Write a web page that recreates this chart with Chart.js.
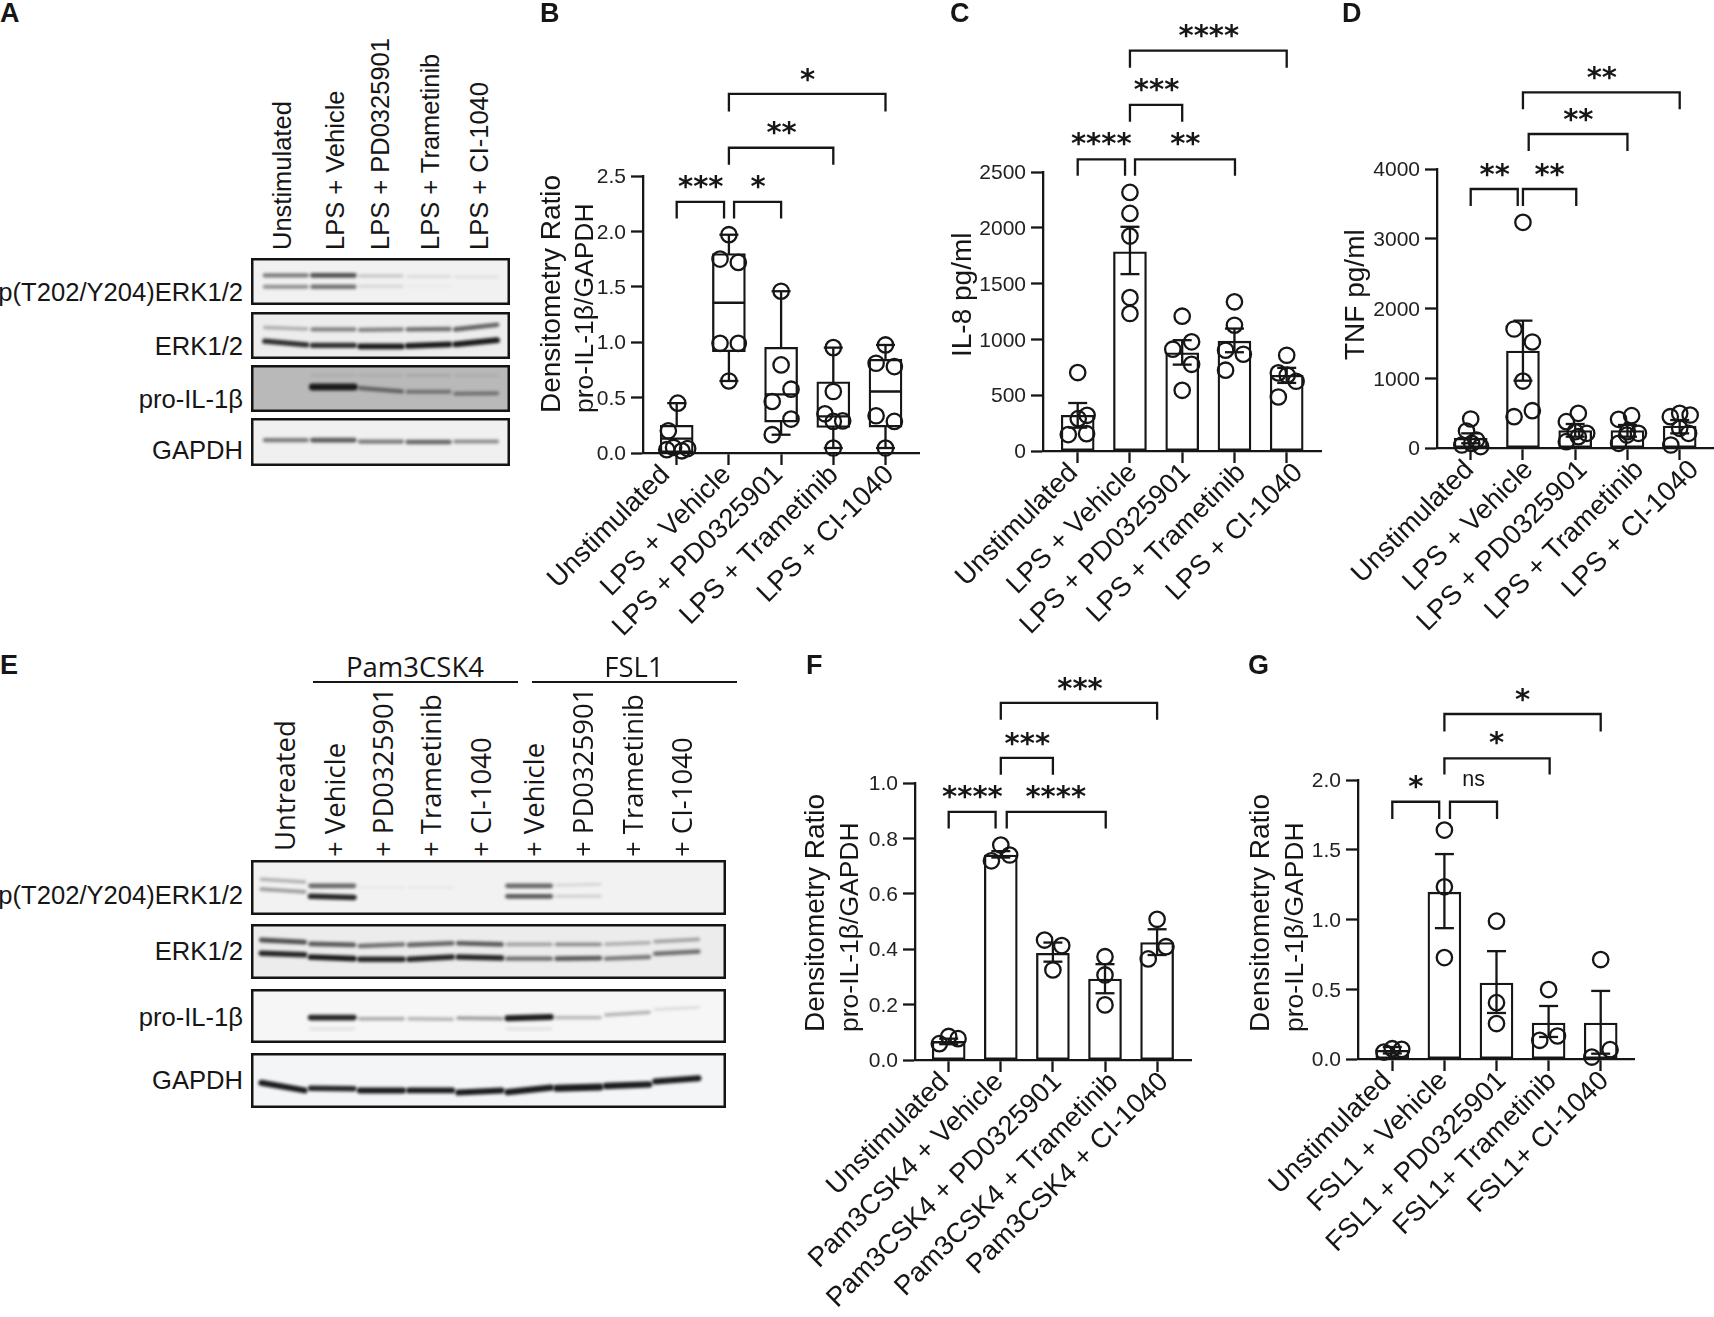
<!DOCTYPE html>
<html>
<head>
<meta charset="utf-8">
<script src="https://cdn.jsdelivr.net/npm/chart.js@4"></script>
<style>
  html, body { margin: 0; background: #fff; }
  #page { position: relative; width: 1714px; height: 1317px; overflow: hidden; background: #fff; }
  #page canvas { position: absolute; }
  .txt { position: absolute; left: 0; top: 0; white-space: nowrap; line-height: 1; color: #161616; transform-origin: 0 0; font-family: "Liberation Sans", sans-serif; }
  .rule { position: absolute; background: #161616; height: 2px; }
</style>
</head>
<body>
<div id="page"></div>
<script>
// x axis labels
const labelsLps = ['Unstimulated', 'LPS + Vehicle', 'LPS + PD0325901', 'LPS + Trametinib', 'LPS + CI-1040'];
const labelsPam = ['Unstimulated', 'Pam3CSK4 + Vehicle', 'Pam3CSK4 + PD0325901', 'Pam3CSK4 + Trametinib', 'Pam3CSK4 + CI-1040'];
const labelsFsl = ['Unstimulated', 'FSL1 + Vehicle', 'FSL1 + PD0325901', 'FSL1+ Trametinib', 'FSL1+ CI-1040'];

// y ticks
const ticksB = [0, 0.5, 1, 1.5, 2, 2.5];
const ticksC = [0, 500, 1000, 1500, 2000, 2500];
const ticksD = [0, 1000, 2000, 3000, 4000];
const ticksF = [0, 0.2, 0.4, 0.6, 0.8, 1];
const ticksG = [0, 0.5, 1, 1.5, 2];

// panel B box plot
const boxMinB = [0.0, 0.65, 0.165, 0.045, 0.045];
const boxQ1B = [0.0, 0.915, 0.279, 0.231, 0.234];
const boxMedB = [0.13, 1.356, 0.53, 0.33, 0.555];
const boxQ3B = [0.25, 1.80, 0.954, 0.642, 0.846];
const boxMaxB = [0.45, 1.97, 1.46, 0.951, 0.975];
const pointsB = [
  [0.02, 0.45], [-0.16, 0.2], [-0.19, 0.03], [-0.06, 0.05], [0.1, 0.02], [0.21, 0.04],
  [1, 1.97], [0.83, 1.75], [1.18, 1.72], [0.83, 0.99], [1.18, 0.99], [1, 0.65],
  [2, 1.46], [2, 0.795], [2.19, 0.576], [1.83, 0.465], [2.19, 0.306], [1.83, 0.165],
  [3, 0.951], [3, 0.555], [2.84, 0.354], [3, 0.285], [3.18, 0.29], [3, 0.045],
  [4, 0.975], [3.82, 0.81], [4.17, 0.78], [3.82, 0.336], [4.17, 0.285], [4, 0.045]
];

// panel C
const meanC = [320, 1785, 879, 984, 679];
const lowC = [209, 1585, 774, 885, 610];
const highC = [430, 2009, 993, 1097, 745];
const pointsC = [
  [0, 703], [0.18, 320], [0.01, 290], [-0.18, 147], [0.17, 155],
  [1, 2317], [1, 2129], [1, 1926], [1, 1375], [1, 1232],
  [2, 1208], [2.18, 978], [1.82, 912], [2.18, 777], [2, 544],
  [3, 1337], [3, 1127], [2.83, 903], [3.17, 867], [2.83, 724],
  [4, 858], [3.84, 700], [4.01, 679], [4.18, 625], [3.84, 484]
];

// panel D
const meanD = [139, 1391, 249, 249, 315];
const lowD = [68, 965, 162, 162, 210];
const highD = [210, 1826, 344, 330, 401];
const pointsD = [
  [0, 416], [-0.08, 244], [-0.17, 43], [0.02, 65], [0.19, 20], [0.11, 115],
  [1, 3235], [0.83, 1706], [1.18, 1520], [1, 960], [1.18, 535], [0.83, 449],
  [2.06, 497], [1.83, 378], [2, 234], [2.22, 210], [2.06, 162], [1.83, 91],
  [3.08, 464], [2.83, 411], [3, 234], [3.21, 210], [2.99, 186], [2.83, 67],
  [4, 497], [3.82, 449], [4.2, 473], [4, 282], [4.17, 210], [3.83, 43]
];

// panel F
const meanF = [0.067, 0.74, 0.385, 0.292, 0.424];
const lowF = [0.057, 0.731, 0.355, 0.241, 0.379];
const highF = [0.077, 0.754, 0.424, 0.346, 0.472];
const pointsF = [
  [0, 0.085], [0.18, 0.077], [-0.18, 0.059],
  [1, 0.776], [1.17, 0.74], [0.82, 0.719],
  [1.84, 0.433], [2.17, 0.413], [2, 0.325],
  [3, 0.373], [3, 0.307], [3, 0.199],
  [4, 0.508], [4.17, 0.409], [3.83, 0.365]
];

// panel G
const meanG = [0.062, 1.196, 0.545, 0.258, 0.258];
const lowG = [0.04, 0.938, 0.33, 0.158, 0.038];
const highG = [0.086, 1.469, 0.773, 0.38, 0.488];
const pointsG = [
  [0, 0.074], [0.18, 0.069], [-0.16, 0.05],
  [1, 1.641], [1, 1.234], [1, 0.727],
  [2, 0.988], [2, 0.404], [2, 0.254],
  [3, 0.498], [3.17, 0.165], [2.83, 0.134],
  [4, 0.713], [4.18, 0.067], [3.83, 0.014]
];

// significance brackets: from, to, top, foot
const bracketsB = [[1, 4, 3.241, 3.082], [1, 3, 2.755, 2.602], [0, 0.907, 2.266, 2.116], [1.099, 2, 2.266, 2.116]];
const bracketsC = [[1, 4, 3588, 3435], [1, 2, 3101, 2951], [0, 0.906, 2613, 2467], [1.097, 3.01, 2613, 2467]];
const bracketsD = [[1, 4, 5099, 4855], [1.11, 3, 4502, 4258], [0, 0.9, 3713, 3470], [1, 2.02, 3713, 3470]];
const bracketsF = [[1, 4, 1.289, 1.228], [1, 2, 1.091, 1.03], [0, 0.9, 0.896, 0.836], [1.114, 3.014, 0.896, 0.836]];
const bracketsG = [[1, 4, 2.473, 2.347], [1, 3.02, 2.155, 2.04], [0, 0.9, 1.844, 1.72], [1.107, 2.01, 1.844, 1.72]];

// significance marks
const starsB = [[2.505, 3.406, '*'], [2.01, 2.926, '**'], [0.46, 2.437, '***'], [1.56, 2.437, '*']];
const starsC = [[2.51, 3758, '****'], [1.51, 3271, '***'], [0.45, 2787, '****'], [2.06, 2787, '**']];
const starsD = [[2.51, 5362, '**'], [2.06, 4760, '**'], [0.46, 3976, '**'], [1.51, 3976, '**']];
const starsF = [[2.52, 1.355, '***'], [1.51, 1.157, '***'], [0.455, 0.964, '****'], [2.054, 0.964, '****']];
const starsG = [[2.5, 2.603, '*'], [2.0, 2.292, '*'], [0.454, 1.976, '*']];
const nsG = [[1.56, 2.0, 'ns']];

// western blot bands: lane, start y %, end y %, darkness
const blotA1 = [[0, 37, 37, .55], [0, 61, 61, .45], [1, 37, 37, .75], [1, 61, 61, .6], [2, 38, 38, .2], [2, 60, 60, .13], [3, 39, 39, .1], [3, 60, 60, .03], [4, 40, 40, .08]];
const blotA2 = [[0, 33, 36, .3], [0, 62, 70, .9], [1, 37, 37, .5], [1, 71, 71, .9], [2, 38, 37, .5], [2, 73, 73, 1], [3, 37, 36, .6], [3, 72, 69, 1], [4, 37, 27, .65], [4, 69, 60, 1]];
const blotA3 = [[1, 47, 47, 1.4], [2, 49, 56, .55], [3, 57, 57, .45], [4, 61, 60, .45], [3, 22, 22, .12], [2, 22, 22, .08], [4, 22, 22, .08], [1, 22, 22, .07]];
const blotA4 = [[0, 46, 46, .55], [1, 46, 46, .7], [2, 49, 49, .55], [3, 50, 50, .65], [4, 49, 49, .45]];
const blotE1 = [[0, 35, 40, .3], [0, 53, 58, .4], [1, 47, 47, .65], [1, 66, 68, .95], [2, 50, 50, .05], [3, 50, 50, .05], [5, 47, 47, .65], [5, 66, 66, .7], [6, 46, 44, .13], [6, 66, 66, .16]];
const blotE2 = [[0, 29, 33, .75], [0, 53, 56, .95], [1, 36, 38, .7], [1, 60, 63, 1], [2, 40, 37, .6], [2, 64, 64, .95], [3, 38, 35, .65], [3, 64, 60, .95], [4, 35, 37, .7], [4, 60, 62, .95], [5, 37, 37, .35], [5, 63, 63, .6], [6, 37, 37, .45], [6, 63, 62, .7], [7, 37, 34, .3], [7, 63, 60, .55], [8, 32, 28, .35], [8, 54, 50, .6]];
const blotE3 = [[1, 53, 53, .95], [1, 74, 74, .1], [2, 55, 55, .35], [3, 55, 56, .3], [4, 54, 55, .4], [5, 54, 52, 1.1], [5, 74, 74, .1], [6, 53, 53, .3], [7, 48, 43, .3], [8, 38, 34, .12]];
const blotE4 = [[0, 54, 68, 1.1], [1, 64, 65, .95], [2, 68, 68, 1.1], [3, 68, 68, 1], [4, 72, 68, 1.1], [5, 71, 63, 1.2], [6, 64, 62, 1.4], [7, 60, 57, 1.2], [8, 52, 46, 1.1]];

const ink = '#161616';
const page = document.getElementById('page');

function addText(text, x, y, size, opts) {
  opts = opts || {};
  const el = document.createElement('div');
  el.className = 'txt';
  el.textContent = text;
  el.style.fontSize = size + 'px';
  if (opts.bold) el.style.fontWeight = 'bold';
  if (opts.family) el.style.fontFamily = opts.family;
  if (opts.vertical) {
    el.style.transform = `translate(${x}px,${y}px) rotate(-90deg) translateY(-50%)`;
  } else if (opts.align === 'right') {
    el.style.transform = `translate(${x}px,${y}px) translate(-100%,-50%)`;
  } else if (opts.align === 'center') {
    el.style.transform = `translate(${x}px,${y}px) translate(-50%,-50%)`;
  } else {
    el.style.transform = `translate(${x}px,${y}px)`;
  }
  page.appendChild(el);
}

function addCanvas(left, top, width, height) {
  const c = document.createElement('canvas');
  c.width = width;
  c.height = height;
  c.style.left = left + 'px';
  c.style.top = top + 'px';
  page.appendChild(c);
  return c;
}

// star and ns marks drawn at scale positions, plus sideways nudges of the slanted x labels
const marksPlugin = {
  id: 'marks',
  afterUpdate(chart, args, opts) {
    chart.scales.x.getLabelItems().forEach((item, i) => {
      item.options.translation[0] += opts.nudge[i];
    });
  },
  afterDatasetsDraw(chart, args, opts) {
    const ctx = chart.ctx;
    ctx.save();
    ctx.fillStyle = ink;
    ctx.textAlign = 'center';
    ctx.font = 'bold 29px "DejaVu Sans"';
    ctx.textBaseline = 'alphabetic';
    (opts.stars || []).forEach(s => {
      ctx.fillText(s[2], chart.scales.x.getPixelForValue(s[0]), chart.scales.y.getPixelForValue(s[1]) + 13);
    });
    ctx.font = '21.5px "Liberation Sans"';
    ctx.textBaseline = 'middle';
    (opts.notes || []).forEach(s => {
      ctx.fillText(s[2], chart.scales.x.getPixelForValue(s[0]), chart.scales.y.getPixelForValue(s[1]));
    });
    ctx.restore();
  }
};

function bracketData(list) {
  const out = [];
  list.forEach(b => {
    out.push({ x: b[0], y: b[3] }, { x: b[0], y: b[2] }, { x: b[1], y: b[2] }, { x: b[1], y: b[3] }, { x: b[1], y: null });
  });
  return out;
}

function lineSet(data, order, capRadius) {
  return {
    type: 'line', data: data, order: order, clip: false, spanGaps: false,
    borderColor: ink, borderWidth: 2.3, fill: false, tension: 0,
    pointStyle: 'line', pointRadius: capRadius || 0, pointBorderWidth: 2.3, pointBorderColor: ink
  };
}

function pointSet(points) {
  return {
    type: 'scatter', data: points.map(p => ({ x: p[0], y: p[1] })), order: 1, clip: false,
    pointStyle: 'circle', pointRadius: 7.7, pointBorderWidth: 2.3,
    pointBorderColor: ink, pointBackgroundColor: 'rgba(0,0,0,0)'
  };
}

function barSets(mean, low, high, points) {
  const err = [];
  mean.forEach((m, i) => err.push({ x: i, y: low[i] }, { x: i, y: high[i] }, { x: i, y: null }));
  return [
    {
      type: 'bar', data: mean.map((m, i) => ({ x: i, y: m })), order: 3, grouped: false,
      barThickness: 33, backgroundColor: '#fff', borderColor: ink, borderWidth: 2.3, borderSkipped: false
    },
    lineSet(err, 2, 9.5),
    pointSet(points)
  ];
}

function boxSets(min, q1, med, q3, max, points) {
  const whisk = [], medLine = [];
  min.forEach((m, i) => {
    whisk.push({ x: i, y: m }, { x: i, y: max[i] }, { x: i, y: null });
    medLine.push({ x: i - 0.31, y: med[i] }, { x: i + 0.31, y: med[i] }, { x: i, y: null });
  });
  return [
    lineSet(whisk, 5, 9.5),
    {
      type: 'bar', data: q1.map((v, i) => ({ x: i, y: [v, q3[i]] })), order: 4, grouped: false,
      barThickness: 33, backgroundColor: '#fff', borderColor: ink, borderWidth: 2.3, borderSkipped: false
    },
    lineSet(medLine, 3, 0),
    pointSet(points)
  ];
}

// axisX/top/bottom/right are the plot edges on the page, tick0 and step the category spacing
function drawPanel(g, labels, yTicks, decimals, sets, brackets, stars, notes) {
  const W = 130, T = 170, H = g.below || 250, R = 40;
  const plotW = g.right - g.axisX, plotH = g.bottom - g.top;
  const c = addCanvas(g.axisX - W, g.top - T, W + plotW + R, T + plotH + H);
  const all = sets.concat([lineSet(bracketData(brackets), 0, 0)]);
  return new Chart(c, {
    type: 'bar',
    data: { datasets: all },
    plugins: [marksPlugin],
    options: {
      responsive: false,
      animation: false,
      events: [],
      layout: { padding: { top: T, right: R, left: 0, bottom: 0 } },
      plugins: {
        legend: { display: false },
        tooltip: { enabled: false },
        marks: { stars: stars, notes: notes || [], nudge: g.nudge }
      },
      scales: {
        x: {
          type: 'linear',
          offset: false,
          min: (g.axisX - g.tick0) / g.step,
          max: (g.right - g.tick0) / g.step,
          afterBuildTicks: s => { s.ticks = labels.map((l, i) => ({ value: i })); },
          afterFit: s => { s.height = H; },
          border: { display: true, color: ink, width: 2.3 },
          grid: { offset: false, drawOnChartArea: false, drawTicks: true, tickLength: 12, tickWidth: 2.3, tickColor: ink },
          ticks: {
            autoSkip: false, minRotation: 45, maxRotation: 45, padding: -6, color: ink,
            font: { family: '"Liberation Sans"', size: 27.4 },
            callback: v => labels[v]
          }
        },
        y: {
          type: 'linear',
          min: yTicks[0],
          max: yTicks[yTicks.length - 1],
          afterBuildTicks: s => { s.ticks = yTicks.map(v => ({ value: v })); },
          afterFit: s => { s.width = W; },
          border: { display: true, color: ink, width: 2.3 },
          grid: { drawOnChartArea: false, drawTicks: true, tickLength: 12, tickWidth: 2.3, tickColor: ink },
          ticks: {
            padding: 5, labelOffset: 1.5, color: '#222',
            font: { family: '"Liberation Sans"', size: 21 },
            callback: v => v.toFixed(decimals)
          }
        }
      }
    }
  });
}

// one strip of a western blot
const blotPlugin = {
  id: 'blotStrip',
  beforeDatasetsDraw(chart, args, opts) {
    const a = chart.chartArea, ctx = chart.ctx;
    ctx.save();
    ctx.fillStyle = opts.bg;
    ctx.fillRect(a.left, a.top, a.width, a.height);
    ctx.filter = 'blur(1.6px)';
  },
  afterDatasetsDraw(chart) {
    const a = chart.chartArea, ctx = chart.ctx;
    ctx.restore();
    ctx.save();
    ctx.strokeStyle = '#141414';
    ctx.lineWidth = 2.5;
    ctx.strokeRect(a.left + 1.25, a.top + 1.25, a.width - 2.5, a.height - 2.5);
    ctx.restore();
  }
};

function drawBlot(box, bands, laneMin, laneMax, bg) {
  const c = addCanvas(box[0], box[1], box[2] - box[0], box[3] - box[1]);
  new Chart(c, {
    type: 'line',
    data: {
      datasets: bands.map(b => ({
        data: [{ x: b[0] - 0.44, y: b[1] }, { x: b[0] + 0.44, y: b[2] }],
        borderColor: `rgba(15,15,15,${Math.min(b[3], 1) * 0.95})`,
        borderWidth: 2.5 + b[3] * 3.2,
        borderCapStyle: 'round',
        pointRadius: 0,
        tension: 0
      }))
    },
    plugins: [blotPlugin],
    options: {
      responsive: false,
      animation: false,
      events: [],
      layout: { padding: 0 },
      plugins: { legend: { display: false }, tooltip: { enabled: false }, blotStrip: { bg: bg } },
      scales: {
        x: { type: 'linear', display: false, min: laneMin, max: laneMax },
        y: { type: 'linear', display: false, min: 0, max: 100, reverse: true }
      }
    }
  });
}

// blots, panel A
drawBlot([251, 258, 510, 305], blotA1, -0.73, 4.71, '#f1f1f1');
drawBlot([251, 312, 510, 359], blotA2, -0.73, 4.71, '#ededed');
drawBlot([251, 365, 510, 412], blotA3, -0.73, 4.71, '#b9b9b9');
drawBlot([251, 418, 510, 466], blotA4, -0.73, 4.71, '#f0f0f0');

// blots, panel E
drawBlot([251, 860, 726, 915], blotE1, -0.65, 9.0, '#f2f2f2');
drawBlot([251, 924, 726, 979], blotE2, -0.65, 9.0, '#ececec');
drawBlot([251, 989, 726, 1043], blotE3, -0.65, 9.0, '#f6f6f6');
drawBlot([251, 1053, 726, 1108], blotE4, -0.65, 9.0, '#f3f5f6');

drawPanel({ axisX: 643, top: 176, bottom: 453, right: 919, tick0: 676.7, step: 52.2, nudge: [-11, -2, -2.5, 1, 4.5] },
  labelsLps, ticksB, 1, boxSets(boxMinB, boxQ1B, boxMedB, boxQ3B, boxMaxB, pointsB), bracketsB, starsB);
drawPanel({ axisX: 1043, top: 172, bottom: 451, right: 1321, tick0: 1077.7, step: 52.25, nudge: [-4, 3, 4, 7, 12] },
  labelsLps, ticksC, 0, barSets(meanC, lowC, highC, pointsC), bracketsC, starsC);
drawPanel({ axisX: 1437, top: 169, bottom: 448, right: 1714, tick0: 1470.7, step: 52.25, nudge: [-1, 6, 8, 12, 15] },
  labelsLps, ticksD, 0, barSets(meanD, lowD, highD, pointsD), bracketsD, starsD);
drawPanel({ axisX: 915, top: 783, bottom: 1060, right: 1191, tick0: 948.7, step: 52.1, below: 290, nudge: [-4, -1.5, 4.5, 9, 7] },
  labelsPam, ticksF, 1, barSets(meanF, lowF, highF, pointsF), bracketsF, starsF);
drawPanel({ axisX: 1358, top: 780, bottom: 1059, right: 1634, tick0: 1392.3, step: 52.1, below: 290, nudge: [-5, -1, 5.5, 3.5, 4] },
  labelsFsl, ticksG, 1, barSets(meanG, lowG, highG, pointsG), bracketsG, starsG, nsG);

// panel letters
addText('A', 0, 0, 27, { bold: true });
addText('B', 540, 0, 27, { bold: true });
addText('C', 950, 0, 27, { bold: true });
addText('D', 1342, 0, 27, { bold: true });
addText('E', 0, 652, 27, { bold: true });
addText('F', 806, 652, 27, { bold: true });
addText('G', 1248, 652, 27, { bold: true });

// y axis titles
addText('Densitometry Ratio', 551, 413, 28, { vertical: true });
addText('pro-IL-1β/GAPDH', 584, 413, 26.5, { vertical: true });
addText('IL-8 pg/ml', 962, 357, 28, { vertical: true });
addText('TNF pg/ml', 1355, 360, 28, { vertical: true });
addText('Densitometry Ratio', 815, 1032, 28, { vertical: true });
addText('pro-IL-1β/GAPDH', 849, 1032, 26.5, { vertical: true });
addText('Densitometry Ratio', 1260, 1032, 28, { vertical: true });
addText('pro-IL-1β/GAPDH', 1294, 1032, 26.5, { vertical: true });

// lane headers, panel A
const lanesA = ['Unstimulated', 'LPS + Vehicle', 'LPS + PD0325901', 'LPS + Trametinib', 'LPS + CI-1040'];
const laneXA = [283, 335.7, 381, 431, 480];
lanesA.forEach((t, i) => addText(t, laneXA[i], 250, 25.5, { vertical: true }));

// lane headers, panel E
const lanesE = ['Untreated', '+ Vehicle', '+ PD0325901', '+ Trametinib', '+ CI-1040', '+ Vehicle', '+ PD0325901', '+ Trametinib', '+ CI-1040'];
const laneXE = [285, 335, 383, 430.6, 481, 533.5, 582.8, 632.5, 681.8];
lanesE.forEach((t, i) => addText(t, laneXE[i], i === 0 ? 851 : 857, 27.5, { vertical: true, family: '"Open Sans"' }));

// strip names
const stripNames = ['p(T202/Y204)ERK1/2', 'ERK1/2', 'pro-IL-1β', 'GAPDH'];
const stripYA = [293, 347, 400, 451];
const stripYE = [896, 952, 1018, 1081];
stripNames.forEach((t, i) => {
  addText(t, 243, stripYA[i], 25.6, { align: 'right' });
  addText(t, 243, stripYE[i], 25.6, { align: 'right' });
});

// treatment groups above panel E
addText('Pam3CSK4', 415, 667, 27.5, { align: 'center', family: '"Open Sans"' });
addText('FSL1', 634, 667, 27.5, { align: 'center', family: '"Open Sans"' });
[[313, 205], [532, 205]].forEach(r => {
  const d = document.createElement('div');
  d.className = 'rule';
  d.style.left = r[0] + 'px';
  d.style.top = '681px';
  d.style.width = r[1] + 'px';
  page.appendChild(d);
});
</script>
</body>
</html>
